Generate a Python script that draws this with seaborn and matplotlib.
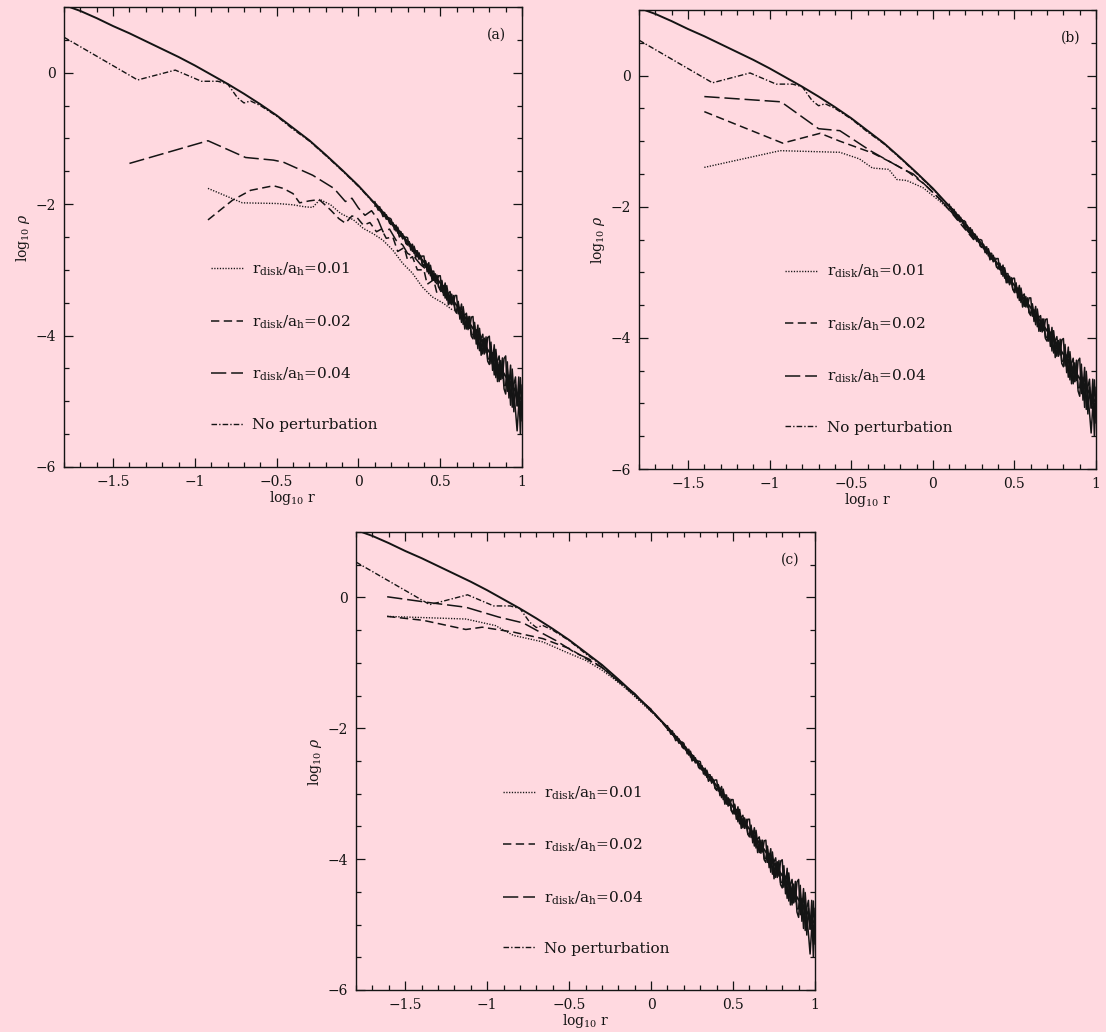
import matplotlib
matplotlib.use("Agg")
import matplotlib.pyplot as plt
import seaborn as sns
from matplotlib.ticker import FixedLocator, MultipleLocator

# ------------------------------------------------------------------ data
xtick_vals = [-1.5, -1.0, -0.5, 0.0, 0.5, 1.0]
xtick_labels = ['\u22121.5', '\u22121', '\u22120.5', '0', '0.5', '1']
ytick_vals = [0, -2, -4, -6]
ytick_labels = ['0', '\u22122', '\u22124', '\u22126']
panel_tags = ['(a)', '(b)', '(c)']
legend_labels = [r'r$_{\rm disk}$/a$_{\rm h}$=0.01',
                 r'r$_{\rm disk}$/a$_{\rm h}$=0.02',
                 r'r$_{\rm disk}$/a$_{\rm h}$=0.04',
                 'No perturbation']
x_label = r'log$_{10}$ r'
y_label = r'log$_{10}$ $\rho$'

# analytic (smooth) profile, same in all panels
model_x = [-1.8, -1.7, -1.6, -1.5, -1.4, -1.3, -1.2, -1.1, -1.0, -0.9,
           -0.8, -0.7, -0.6, -0.5, -0.4, -0.3, -0.2, -0.1, 0.0, 0.1,
           0.2, 0.3, 0.4, 0.5, 0.6, 0.7, 0.8, 0.9, 1.0]
model_y = [1.03, 0.94, 0.83, 0.71, 0.60, 0.48, 0.36, 0.24, 0.11, -0.03,
           -0.17, -0.32, -0.48, -0.65, -0.84, -1.03, -1.25, -1.48, -1.72, -1.99,
           -2.27, -2.57, -2.88, -3.20, -3.54, -3.89, -4.25, -4.62, -4.99]

# unperturbed N-body run (same in all panels)
nopert_x = [-1.80, -1.35, -1.12, -0.96, -0.86, -0.80, -0.74, -0.70, -0.66, -0.60,
            -0.50, -0.40, -0.30, -0.20, -0.10, 0.00, 0.10, 0.20, 0.30]
nopert_y = [0.54, -0.11, 0.04, -0.13, -0.13, -0.17, -0.38, -0.46, -0.43, -0.50,
            -0.66, -0.86, -1.04, -1.26, -1.49, -1.73, -2.00, -2.29, -2.58]

# noisy outer tail (particle noise), shared by all panels
tail_x = [0.10, 0.11, 0.12, 0.13, 0.14, 0.15, 0.16, 0.17, 0.18, 0.19,
          0.20, 0.21, 0.22, 0.23, 0.24, 0.25, 0.26, 0.27, 0.28, 0.29,
          0.30, 0.31, 0.32, 0.33, 0.34, 0.35, 0.36, 0.37, 0.38, 0.39,
          0.40, 0.41, 0.42, 0.43, 0.44, 0.45, 0.46, 0.47, 0.48, 0.49,
          0.50, 0.51, 0.52, 0.53, 0.54, 0.55, 0.56, 0.57, 0.58, 0.59,
          0.60, 0.61, 0.62, 0.63, 0.64, 0.65, 0.66, 0.67, 0.68, 0.69,
          0.70, 0.71, 0.72, 0.73, 0.74, 0.75, 0.76, 0.77, 0.78, 0.79,
          0.80, 0.81, 0.82, 0.83, 0.84, 0.85, 0.86, 0.87, 0.88, 0.89,
          0.90, 0.91, 0.92, 0.93, 0.94, 0.95, 0.96, 0.97, 0.98, 0.99, 1.00]
tail_a = [-1.96, -2.04, -2.03, -2.10, -2.08, -2.14, -2.18, -2.16, -2.22, -2.21,
          -2.23, -2.33, -2.32, -2.41, -2.35, -2.43, -2.49, -2.45, -2.53, -2.50,
          -2.51, -2.64, -2.61, -2.72, -2.64, -2.73, -2.80, -2.74, -2.83, -2.79,
          -2.79, -2.96, -2.91, -3.06, -2.93, -3.06, -3.16, -3.06, -3.18, -3.09,
          -3.09, -3.31, -3.24, -3.43, -3.24, -3.40, -3.52, -3.37, -3.53, -3.39,
          -3.39, -3.67, -3.57, -3.80, -3.56, -3.75, -3.90, -3.71, -3.89, -3.72,
          -3.71, -4.05, -3.91, -4.20, -3.89, -4.12, -4.28, -4.04, -4.26, -4.03,
          -4.01, -4.43, -4.26, -4.60, -4.21, -4.48, -4.70, -4.38, -4.65, -4.35,
          -4.31, -4.85, -4.60, -5.06, -4.51, -4.87, -5.14, -5.45, -5.05, -4.64, -5.30]
tail_b = [-2.01, -2.00, -2.05, -2.04, -2.13, -2.12, -2.13, -2.20, -2.20, -2.27,
          -2.31, -2.28, -2.34, -2.32, -2.44, -2.41, -2.42, -2.51, -2.49, -2.58,
          -2.62, -2.57, -2.65, -2.61, -2.75, -2.71, -2.71, -2.82, -2.79, -2.90,
          -2.95, -2.87, -2.97, -2.89, -3.09, -3.02, -3.02, -3.16, -3.10, -3.26,
          -3.31, -3.18, -3.32, -3.20, -3.46, -3.36, -3.33, -3.51, -3.43, -3.62,
          -3.66, -3.51, -3.66, -3.52, -3.83, -3.69, -3.66, -3.89, -3.77, -4.01,
          -4.05, -3.85, -4.03, -3.84, -4.23, -4.04, -3.98, -4.26, -4.10, -4.39,
          -4.44, -4.17, -4.40, -4.14, -4.64, -4.38, -4.31, -4.66, -4.45, -4.81,
          -4.89, -4.50, -4.80, -4.45, -5.09, -4.75, -4.63, -5.07, -4.79, -5.50, -4.75]
tail_c = [-2.03, -2.02, -2.09, -2.09, -2.12, -2.19, -2.17, -2.23, -2.21, -2.29,
          -2.31, -2.29, -2.39, -2.38, -2.40, -2.50, -2.46, -2.53, -2.50, -2.60,
          -2.62, -2.58, -2.70, -2.68, -2.69, -2.81, -2.76, -2.84, -2.78, -2.92,
          -2.94, -2.86, -3.03, -2.98, -2.99, -3.16, -3.07, -3.19, -3.08, -3.26,
          -3.28, -3.16, -3.39, -3.32, -3.31, -3.53, -3.39, -3.53, -3.39, -3.61,
          -3.62, -3.48, -3.75, -3.65, -3.64, -3.90, -3.73, -3.91, -3.71, -3.99,
          -3.99, -3.80, -4.13, -4.00, -3.98, -4.30, -4.06, -4.28, -4.02, -4.36,
          -4.35, -4.10, -4.53, -4.34, -4.31, -4.70, -4.41, -4.67, -4.34, -4.76,
          -4.76, -4.40, -4.95, -4.71, -4.64, -5.16, -4.75, -5.07, -4.63, -5.18, -4.93]

# panel (a)
a_001_x = [-0.92, -0.71, -0.50, -0.40, -0.33, -0.28, -0.235, -0.17, -0.11, -0.03,
           0.03, 0.09, 0.15, 0.21, 0.27, 0.33, 0.39, 0.45, 0.52, 0.58]
a_001_y = [-1.76, -1.98, -1.99, -2.01, -2.04, -2.05, -1.93, -2.01, -2.14, -2.24,
           -2.37, -2.45, -2.55, -2.70, -2.90, -3.05, -3.26, -3.41, -3.51, -3.62]
a_002_x = [-0.92, -0.77, -0.66, -0.52, -0.46, -0.40, -0.36, -0.30, -0.24, -0.17,
           -0.12, -0.08, -0.04, -0.01, 0.03, 0.07, 0.11, 0.14, 0.17, 0.21,
           0.24, 0.28, 0.30, 0.33, 0.36, 0.40, 0.42, 0.46, 0.48, 0.52, 0.56]
a_002_y = [-2.24, -1.94, -1.79, -1.72, -1.76, -1.84, -1.98, -1.95, -1.93, -2.09,
           -2.22, -2.29, -2.18, -2.20, -2.32, -2.28, -2.42, -2.38, -2.52, -2.50,
           -2.72, -2.66, -2.85, -2.80, -3.00, -3.00, -3.22, -3.15, -3.36, -3.30, -3.45]
a_004_x = [-1.40, -0.92, -0.69, -0.52, -0.46, -0.28, -0.15, -0.08, -0.04, 0.00,
           0.04, 0.08, 0.12, 0.15, 0.19, 0.23, 0.27, 0.30, 0.34, 0.38, 0.44, 0.50, 0.56]
a_004_y = [-1.38, -1.035, -1.29, -1.33, -1.36, -1.56, -1.76, -1.96, -1.91, -2.06,
           -2.17, -2.10, -2.24, -2.42, -2.38, -2.55, -2.62, -2.75, -2.80, -2.92,
           -3.05, -3.30, -3.45]

# panel (b)
b_001_x = [-1.40, -0.935, -0.57, -0.45, -0.37, -0.27, -0.22, -0.16, -0.06, 0.04,
           0.10, 0.17, 0.25, 0.32]
b_001_y = [-1.40, -1.145, -1.17, -1.27, -1.41, -1.43, -1.585, -1.60, -1.71, -1.91,
           -2.05, -2.22, -2.45, -2.66]
b_002_x = [-1.40, -0.92, -0.69, -0.57, -0.37, -0.25, -0.15, -0.05, 0.05, 0.15, 0.25]
b_002_y = [-0.55, -1.03, -0.88, -1.00, -1.18, -1.33, -1.47, -1.66, -1.90, -2.20, -2.50]
b_004_x = [-1.40, -0.93, -0.70, -0.57, -0.38, -0.18, -0.12, -0.05, 0.05, 0.15, 0.25]
b_004_y = [-0.32, -0.40, -0.81, -0.84, -1.15, -1.43, -1.50, -1.66, -1.90, -2.18, -2.48]

# panel (c)
c_001_x = [-1.61, -1.13, -0.95, -0.84, -0.66, -0.52, -0.40, -0.30, -0.23, -0.15,
           -0.05, 0.05, 0.15, 0.25]
c_001_y = [-0.29, -0.33, -0.43, -0.58, -0.68, -0.835, -0.96, -1.11, -1.24, -1.40,
           -1.63, -1.86, -2.14, -2.44]
c_002_x = [-1.61, -1.39, -1.13, -1.03, -0.84, -0.66, -0.50, -0.38, -0.30, -0.20,
           -0.10, 0.00, 0.10, 0.20, 0.30]
c_002_y = [-0.29, -0.35, -0.49, -0.455, -0.53, -0.63, -0.78, -0.96, -1.07, -1.28,
           -1.50, -1.71, -2.01, -2.26, -2.58]
c_004_x = [-1.61, -1.35, -1.13, -0.93, -0.78, -0.70, -0.58, -0.46, -0.38, -0.30,
           -0.20, -0.10, 0.00, 0.10, 0.20, 0.30]
c_004_y = [0.01, -0.08, -0.15, -0.30, -0.39, -0.50, -0.66, -0.85, -0.94, -1.07,
           -1.28, -1.47, -1.74, -1.98, -2.29, -2.56]

panels = [
    dict(tag=panel_tags[0], curves=[(a_001_x, a_001_y), (a_002_x, a_002_y), (a_004_x, a_004_y)],
         rect=[0.0579, 0.5475, 0.4141, 0.4457]),
    dict(tag=panel_tags[1], curves=[(b_001_x, b_001_y), (b_002_x, b_002_y), (b_004_x, b_004_y)],
         rect=[0.5778, 0.5455, 0.4132, 0.4448]),
    dict(tag=panel_tags[2], curves=[(c_001_x, c_001_y), (c_002_x, c_002_y), (c_004_x, c_004_y)],
         rect=[0.3219, 0.0407, 0.4150, 0.4438]),
]

# ------------------------------------------------------------------ style
BG = '#FFD9E0'
INK = '#141414'
sns.set_theme(style='ticks')
plt.rcParams.update({
    'font.family': ['DejaVu Serif'],
    'mathtext.fontset': 'dejavuserif',
    'lines.scale_dashes': False,
    'axes.linewidth': 1.0,
    'axes.edgecolor': INK,
    'xtick.color': INK,
    'ytick.color': INK,
    'text.color': INK,
    'axes.labelcolor': INK,
    'figure.facecolor': BG,
    'axes.facecolor': BG,
    'savefig.facecolor': BG,
})

styles = [
    dict(linestyle=(0, (0.9, 1.1)), linewidth=1.0),        # 0.01 dotted
    dict(linestyle=(0, (6.0, 3.2)), linewidth=1.1),        # 0.02 short dash
    dict(linestyle=(0, (11.0, 3.5)), linewidth=1.1),       # 0.04 long dash
]
nopert_style = dict(linestyle=(0, (4.0, 1.5, 1.0, 1.5)), linewidth=1.0)

fig = plt.figure(figsize=(11.06, 10.32), dpi=100)

for p in panels:
    ax = fig.add_axes(p['rect'])
    # noisy outer tail
    for ty in (tail_a, tail_b, tail_c):
        sns.lineplot(x=tail_x, y=ty, ax=ax, color=INK, linewidth=1.1,
                     sort=False, estimator=None)
    # analytic profile
    sns.lineplot(x=model_x, y=model_y, ax=ax, color=INK, linewidth=1.4,
                 sort=False, estimator=None)
    handles = []
    for (cx, cy), st in zip(p['curves'], styles):
        sns.lineplot(x=cx, y=cy, ax=ax, color=INK, sort=False, estimator=None, **st)
        handles.append(ax.lines[-1])
    sns.lineplot(x=nopert_x, y=nopert_y, ax=ax, color=INK, sort=False,
                 estimator=None, **nopert_style)
    handles.append(ax.lines[-1])

    ax.set_xlim(-1.8, 1.0)
    ax.set_ylim(-6.0, 1.0)
    ax.xaxis.set_major_locator(FixedLocator(xtick_vals))
    ax.set_xticklabels(xtick_labels)
    ax.xaxis.set_minor_locator(MultipleLocator(0.1))
    ax.yaxis.set_major_locator(FixedLocator(ytick_vals))
    ax.set_yticklabels(ytick_labels)
    ax.yaxis.set_minor_locator(MultipleLocator(0.5))
    ax.tick_params(which='both', direction='in', top=True, right=True,
                   width=0.9, labelsize=10)
    ax.tick_params(which='major', length=6.5, pad=6)
    ax.tick_params(which='minor', length=3.5)
    ax.set_xlabel(x_label, fontsize=10, labelpad=0)
    ax.set_ylabel(y_label, fontsize=10, labelpad=2.5)
    ax.text(0.945, 0.94, p['tag'], transform=ax.transAxes, ha='center',
            va='center', fontsize=10)
    ax.legend(handles, legend_labels, loc='center left',
              bbox_to_anchor=(0.32, 0.262), frameon=False, fontsize=11,
              handlelength=2.1, handletextpad=0.62, labelspacing=2.3,
              borderpad=0, borderaxespad=0)

fig.savefig('out.png', dpi=100, facecolor=BG)
